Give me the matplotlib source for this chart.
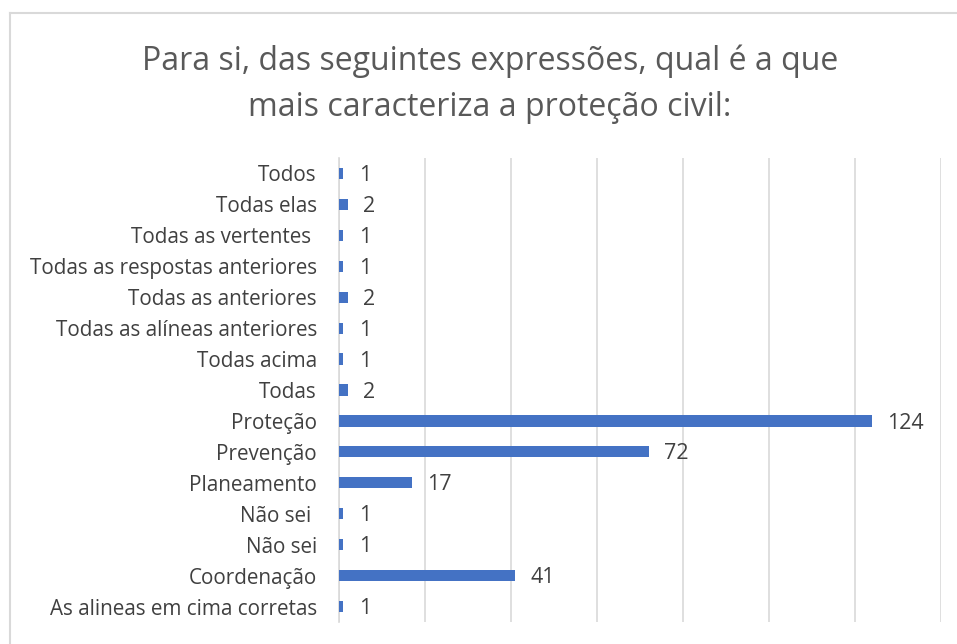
import matplotlib
matplotlib.use("Agg")
import matplotlib.pyplot as plt
from matplotlib.lines import Line2D

categories = ["As alineas em cima corretas", "Coordenação", "Não sei", "Não sei ",
              "Planeamento", "Prevenção", "Proteção", "Todas", "Todas acima",
              "Todas as alíneas anteriores", "Todas as anteriores",
              "Todas as respostas anteriores", "Todas as vertentes ", "Todas elas", "Todos"]
values = [1, 41, 1, 1, 17, 72, 124, 2, 1, 1, 2, 1, 1, 2, 1]
title = "Para si, das seguintes expressões, qual é a que\nmais caracteriza a proteção civil:"

plt.rcParams['font.family'] = ['Open Sans', 'DejaVu Sans']
W, H = 957, 644
fig = plt.figure(figsize=(W/100, H/100), dpi=100)
ax = fig.add_axes([339/W, 1-622/H, (941-339)/W, (622-158)/H])

ypos = list(range(len(categories)))
ax.barh(ypos, values, height=0.36, color="#4472C4", zorder=3)
for y, v in zip(ypos, values):
    ax.annotate(str(v), (v, y), xytext=(11, -1.5), textcoords="offset points",
                va="center", ha="left", fontsize=15.5, color="#404040")

ax.set_xlim(0, 140)
ax.set_ylim(-0.5, len(categories) - 0.5)
ax.set_xticks(range(0, 141, 20))
ax.set_xticklabels([])
ax.tick_params(axis="x", length=0)
ax.tick_params(axis="y", length=0, pad=16, labelsize=14.9, labelcolor="#404040")
ax.set_yticks(ypos)
ax.set_yticklabels(categories)
ax.grid(axis="x", color="#D9D9D9", linewidth=1.2, zorder=0)
for s in ["top", "right", "bottom"]:
    ax.spines[s].set_visible(False)
ax.spines["left"].set_color("#D9D9D9")
ax.spines["left"].set_linewidth(1.2)

fig.text(490/W, 1-84/H, title, ha="center", va="center", fontsize=23,
         color="#595959", linespacing=1.5)

# chart border
fig.add_artist(Line2D([10/W, 10/W], [0, 1-13/H], color="#D9D9D9", lw=1.5))
fig.add_artist(Line2D([10/W, 1], [1-13/H, 1-13/H], color="#D9D9D9", lw=1.5))

fig.savefig("out.png", dpi=100)
